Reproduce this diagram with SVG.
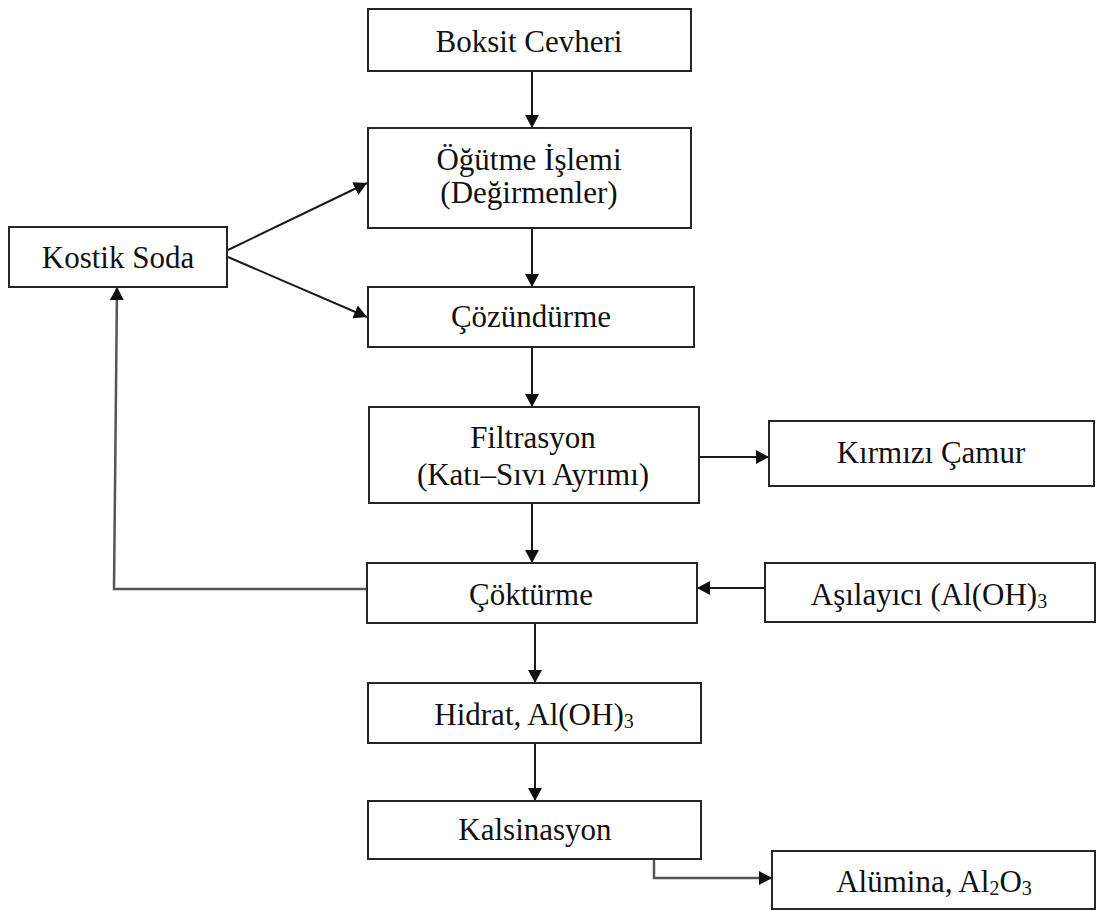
<svg xmlns="http://www.w3.org/2000/svg" width="1098" height="911" viewBox="0 0 1098 911">
<style>
.box{fill:#fff;stroke:#262626;stroke-width:2}
.lbl{font-family:"Liberation Serif","Times New Roman",serif;font-size:31px;fill:#111;text-anchor:middle}
.sub{font-size:20px}
.con{fill:none;stroke:#1a1a1a;stroke-width:2}
.gray{stroke:#555;stroke-width:2.5}
</style>
<defs>
<marker id="ah" markerUnits="userSpaceOnUse" markerWidth="14" markerHeight="14" refX="13" refY="7" orient="auto">
<path d="M0,0 L13,7 L0,14 z" fill="#111"/>
</marker>
</defs>
<g id="connectors">
<line class="con" x1="532" y1="71" x2="532" y2="128" marker-end="url(#ah)"/>
<line class="con" x1="532" y1="228" x2="532" y2="287" marker-end="url(#ah)"/>
<line class="con" x1="228" y1="250" x2="367" y2="183" marker-end="url(#ah)"/>
<line class="con" x1="228" y1="257" x2="367" y2="317" marker-end="url(#ah)"/>
<line class="con" x1="532" y1="347" x2="532" y2="407" marker-end="url(#ah)"/>
<line class="con" x1="699" y1="457" x2="769" y2="457" marker-end="url(#ah)"/>
<line class="con" x1="532" y1="503" x2="532" y2="563" marker-end="url(#ah)"/>
<line class="con" x1="765" y1="588" x2="697" y2="588" marker-end="url(#ah)"/>
<polyline class="con gray" points="367,589 114,589 117,287" marker-end="url(#ah)"/>
<line class="con" x1="535" y1="623" x2="535" y2="683" marker-end="url(#ah)"/>
<line class="con" x1="535" y1="743" x2="535" y2="801" marker-end="url(#ah)"/>
<polyline class="con gray" points="654,859 654,878 772,878" marker-end="url(#ah)"/>
</g>
<g id="boksit">
<rect class="box" x="368" y="9" width="323" height="62"/>
<text class="lbl" x="529" y="52">Boksit Cevheri</text>
</g>
<g id="ogutme">
<rect class="box" x="368" y="128" width="323" height="100"/>
<text class="lbl" x="529" y="170">Öğütme İşlemi</text>
<text class="lbl" x="529" y="203">(Değirmenler)</text>
</g>
<g id="kostik">
<rect class="box" x="9" y="227" width="218" height="60"/>
<text class="lbl" x="118" y="268">Kostik Soda</text>
</g>
<g id="cozundurme">
<rect class="box" x="368" y="287" width="326" height="60"/>
<text class="lbl" x="531" y="327">Çözündürme</text>
</g>
<g id="filtrasyon">
<rect class="box" x="369" y="407" width="330" height="96"/>
<text class="lbl" x="533" y="448">Filtrasyon</text>
<text class="lbl" x="533" y="485">(Katı–Sıvı Ayrımı)</text>
</g>
<g id="kirmizi">
<rect class="box" x="769" y="421" width="325" height="65"/>
<text class="lbl" x="931" y="463">Kırmızı Çamur</text>
</g>
<g id="cokturme">
<rect class="box" x="367" y="563" width="330" height="60"/>
<text class="lbl" x="531" y="605">Çöktürme</text>
</g>
<g id="asilayici">
<rect class="box" x="765" y="563" width="330" height="59"/>
<text class="lbl" x="929" y="605">Aşılayıcı (Al(OH)<tspan class="sub" dy="3">3</tspan></text>
</g>
<g id="hidrat">
<rect class="box" x="368" y="683" width="333" height="60"/>
<text class="lbl" x="534" y="725">Hidrat, Al(OH)<tspan class="sub" dy="3">3</tspan></text>
</g>
<g id="kalsinasyon">
<rect class="box" x="368" y="801" width="333" height="58"/>
<text class="lbl" x="535" y="840">Kalsinasyon</text>
</g>
<g id="alumina">
<rect class="box" x="772" y="851" width="323" height="58"/>
<text class="lbl" x="934" y="892">Alümina, Al<tspan class="sub" dy="3">2</tspan><tspan dy="-3">O</tspan><tspan class="sub" dy="3">3</tspan></text>
</g>
</svg>
